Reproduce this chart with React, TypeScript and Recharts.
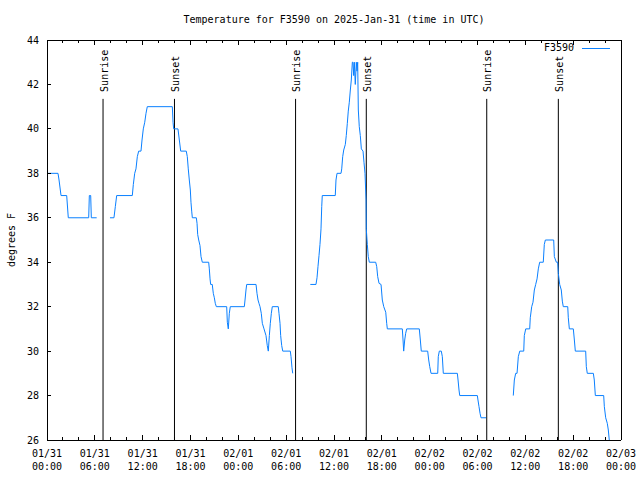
import { LineChart, Line, XAxis, YAxis, ReferenceLine } from 'recharts';

// hours since 2025-01-31 00:00 UTC; null temp = gap in the record
const hours = [
  0, 1.38, 1.51, 1.76, 2.47, 2.67, 5.23, 5.31, 5.48, 5.56, 6.23,
  6.6,
  7.9, 8.4, 8.57, 8.74, 10.7, 10.83, 11.0, 11.16, 11.33, 11.5, 11.79, 11.92, 12.08, 12.26, 12.42, 12.58,
  15.72, 15.81, 15.89, 16.43, 16.6, 16.77, 17.47, 17.6, 17.72, 17.85, 17.98, 18.06, 18.15, 18.23,
  18.73, 18.82, 18.9, 19.03, 19.19, 19.32, 19.48, 20.28, 20.36, 20.45, 20.53, 20.73, 20.86, 20.99,
  21.11, 21.24, 22.54, 22.62, 22.74, 22.87, 22.99, 24.75, 24.84, 24.96, 25.05, 26.22, 26.34, 26.47,
  26.59, 26.72, 26.88, 27.01, 27.22, 27.47, 27.63, 27.76, 27.89, 28.01, 28.14, 28.26, 29.01, 29.1,
  29.23, 29.31, 29.44, 29.57, 30.52, 30.61, 30.73, 30.82,
  31.9,
  33.03, 33.74, 33.87, 33.99, 34.12, 34.24, 34.28, 34.37, 34.46, 34.53, 36.16, 36.25, 36.38, 36.88,
  36.97, 37.09, 37.22, 37.42, 37.54, 37.67, 37.79, 37.92, 38.05, 38.17, 38.3, 38.38, 38.47, 38.55,
  38.67, 38.8, 38.89, 38.97, 39.05, 39.17, 39.3, 39.43, 39.64, 39.76, 39.89, 40.02, 40.05, 40.18,
  40.3, 40.43, 41.23, 41.36, 41.48, 41.65, 41.9, 42.06, 42.24, 42.49, 42.61, 42.69, 44.57, 44.66,
  44.74, 44.87, 44.99, 45.12, 46.7, 46.83, 46.95, 47.75, 47.88, 48.01, 48.17, 49.01, 49.08, 49.21,
  49.46, 49.59, 49.71, 51.47, 51.56, 51.68, 51.77, 53.98, 54.06, 54.19, 54.32, 54.44, 55.07,
  56.8,
  58.49, 58.62, 58.79, 58.96, 59.12, 59.3, 59.8, 59.87, 60.05, 60.55, 60.62, 60.8, 60.96, 61.13,
  61.3, 61.47, 61.63, 61.8, 62.25, 62.38, 62.51, 63.56, 63.64, 63.89, 64.06, 64.14, 64.31, 64.51,
  64.64, 64.76, 65.32, 65.39, 65.52, 66.02, 66.15, 66.27, 67.57, 67.65, 67.77, 68.53, 68.65, 68.78,
  69.83, 69.91, 70.08, 70.28, 70.41, 70.53,
];

const temps = [
  38, 38, 37.7, 37, 37, 36, 36, 37, 37, 36, 36,
  null,
  36, 36, 36.5, 37, 37, 37.5, 38, 38.2, 38.75, 39, 39, 39.5, 40, 40.3, 40.7, 41,
  41, 40.3, 40, 40, 39.5, 39, 39, 38.75, 38.2, 37.7, 37.25, 36.7, 36.3, 36,
  36, 35.75, 35.25, 35, 34.75, 34.25, 34, 34, 33.7, 33.25, 33, 33, 32.6, 32.4,
  32.15, 32, 32, 31.3, 31, 31.7, 32, 32, 32.3, 32.75, 33, 33, 32.6, 32.3,
  32.15, 32, 31.7, 31.25, 31, 30.7, 30.25, 30, 30.7, 31.25, 31.7, 32, 32, 31.7,
  31.25, 30.7, 30.25, 30, 30, 29.75, 29.25, 29,
  null,
  33, 33, 33.3, 33.8, 34.3, 34.8, 35, 35.5, 36.5, 37, 37, 37.7, 38, 38,
  38.2, 38.75, 39.05, 39.3, 39.7, 40.25, 40.8, 41.2, 41.75, 42.2, 43, 43, 42.4, 43,
  42, 43, 42.6, 43, 40.85, 40.1, 39.7, 39.1, 39, 38.5, 38, 36.8, 35.5, 34.8,
  34.25, 34, 34, 33.8, 33.35, 33.05, 33, 32.3, 32, 31.75, 31.25, 31, 31, 30.5,
  30, 30.5, 30.8, 31, 31, 30.5, 30, 30, 29.6, 29.3, 29, 29, 29.75, 30,
  30, 29.75, 29, 29, 28.7, 28.25, 28, 28, 27.8, 27.5, 27.2, 27, 27,
  null,
  28, 28.7, 29, 29, 29.75, 30, 30, 30.7, 31, 31, 31.5, 32, 32.2, 32.75,
  33, 33.25, 33.7, 34, 34, 34.8, 35, 35, 34.25, 34, 34, 33.5, 33, 32.75,
  32.25, 32, 32, 31.5, 31, 31, 30.5, 30, 30, 29.3, 29, 29, 28.7, 28,
  28, 27.5, 27, 26.75, 26.45, 26,
];

const sunLabels = ['Sunrise', 'Sunset', 'Sunrise', 'Sunset', 'Sunrise', 'Sunset'];
const sunHours = [7.03, 15.99, 31.18, 40.05, 55.16, 64.14];
const sunLineTop = 41.35;

const xTicks = [0, 2, 4, 6, 8, 10, 12, 14, 16, 18, 20, 22, 24, 26, 28, 30, 32, 34, 36,
  38, 40, 42, 44, 46, 48, 50, 52, 54, 56, 58, 60, 62, 64, 66, 68, 70, 72];
const xMajor = [0, 6, 12, 18, 24, 30, 36, 42, 48, 54, 60, 66, 72];
const xLabelDates = ['01/31', '01/31', '01/31', '01/31', '02/01', '02/01', '02/01', '02/01',
  '02/02', '02/02', '02/02', '02/02', '02/03'];
const xLabelTimes = ['00:00', '06:00', '12:00', '18:00', '00:00', '06:00', '12:00', '18:00',
  '00:00', '06:00', '12:00', '18:00', '00:00'];
const yTicks = [26, 28, 30, 32, 34, 36, 38, 40, 42, 44];

const data = hours.map((h, i) => ({ hour: h, temp: temps[i] }));

const FONT = '"DejaVu Sans Mono", monospace';
const BLUE = '#0a80ff';

const BottomTick = (props: any) => {
  const { x, y, payload } = props;
  const idx = xMajor.indexOf(payload.value);
  const major = idx >= 0;
  return (
    <g>
      <line x1={x} y1={y} x2={x} y2={y - (major ? 5 : 3)} stroke="#000" shapeRendering="crispEdges" />
      {major && (
        <text x={x} y={y + 17} textAnchor="middle" fontFamily={FONT} fontSize={10} fill="#000">
          {xLabelDates[idx]}
        </text>
      )}
      {major && (
        <text x={x} y={y + 30} textAnchor="middle" fontFamily={FONT} fontSize={10} fill="#000">
          {xLabelTimes[idx]}
        </text>
      )}
    </g>
  );
};

const TopTick = (props: any) => {
  const { x, y, payload } = props;
  const major = xMajor.indexOf(payload.value) >= 0;
  return <line x1={x} y1={y} x2={x} y2={y + (major ? 5 : 3)} stroke="#000" shapeRendering="crispEdges" />;
};

const LeftTick = (props: any) => {
  const { x, y, payload } = props;
  return (
    <g>
      <line x1={x} y1={y} x2={x + 4} y2={y} stroke="#000" shapeRendering="crispEdges" />
      <text x={x - 8} y={y + 3.5} textAnchor="end" fontFamily={FONT} fontSize={10} fill="#000">
        {payload.value}
      </text>
    </g>
  );
};

const RightTick = (props: any) => {
  const { x, y } = props;
  return <line x1={x} y1={y} x2={x - 4} y2={y} stroke="#000" shapeRendering="crispEdges" />;
};

const sunLabel = (text: string) => (props: any) => {
  const vb = props.viewBox || {};
  const lx = vb.x + 4.5;
  const ly = vb.y - 7;
  return (
    <text
      x={lx}
      y={ly}
      transform={`rotate(-90 ${lx} ${ly})`}
      textAnchor="start"
      fontFamily={FONT}
      fontSize={10}
      fill="#000"
    >
      {text}
    </text>
  );
};

const axisLine = { stroke: '#000', shapeRendering: 'crispEdges' };

export default function App() {
  return (
    <div style={{ position: 'absolute', left: 0, top: 0, width: 640, height: 480, background: '#fff' }}>
      <LineChart
        width={640}
        height={480}
        data={data}
        margin={{ top: 39, right: 18, bottom: 39, left: 46 }}
      >
        <XAxis
          xAxisId="b"
          dataKey="hour"
          type="number"
          domain={[0, 72]}
          ticks={xTicks}
          interval={0}
          height={1}
          tickSize={0}
          tickMargin={0}
          tickLine={false}
          axisLine={axisLine}
          tick={(p: any) => <BottomTick {...p} />}
        />
        <XAxis
          xAxisId="t"
          orientation="top"
          dataKey="hour"
          type="number"
          domain={[0, 72]}
          ticks={xTicks}
          interval={0}
          height={1}
          tickSize={0}
          tickMargin={0}
          tickLine={false}
          axisLine={axisLine}
          tick={(p: any) => <TopTick {...p} />}
        />
        <YAxis
          yAxisId="l"
          type="number"
          domain={[26, 44]}
          ticks={yTicks}
          interval={0}
          width={1}
          tickSize={0}
          tickMargin={0}
          tickLine={false}
          axisLine={axisLine}
          tick={(p: any) => <LeftTick {...p} />}
        />
        <YAxis
          yAxisId="r"
          orientation="right"
          type="number"
          domain={[26, 44]}
          ticks={yTicks}
          interval={0}
          width={1}
          tickSize={0}
          tickMargin={0}
          tickLine={false}
          axisLine={axisLine}
          tick={(p: any) => <RightTick {...p} />}
        />
        {sunHours.map((h, i) => (
          <ReferenceLine
            key={i}
            xAxisId="b"
            yAxisId="l"
            segment={[{ x: h, y: 26 }, { x: h, y: sunLineTop }]}
            stroke="#000"
            strokeWidth={1}
            label={sunLabel(sunLabels[i])}
          />
        ))}
        <Line
          xAxisId="b"
          yAxisId="l"
          type="linear"
          dataKey="temp"
          stroke={BLUE}
          strokeWidth={1}
          dot={false}
          activeDot={false}
          connectNulls={false}
          isAnimationActive={false}
        />
      </LineChart>
      <svg
        width={640}
        height={480}
        style={{ position: 'absolute', left: 0, top: 0, pointerEvents: 'none' }}
      >
        <text x={334} y={23} textAnchor="middle" fontFamily={FONT} fontSize={10} fill="#000">
          Temperature for F3590 on 2025-Jan-31 (time in UTC)
        </text>
        <text
          x={14.5}
          y={240}
          transform="rotate(-90 14.5 240)"
          textAnchor="middle"
          fontFamily={FONT}
          fontSize={10}
          fill="#000"
        >
          degrees F
        </text>
        <text x={574} y={50.5} textAnchor="end" fontFamily={FONT} fontSize={10} fill="#000">
          F3590
        </text>
        <line x1={582} y1={48.5} x2={610} y2={48.5} stroke={BLUE} strokeWidth={1} />
      </svg>
    </div>
  );
}
